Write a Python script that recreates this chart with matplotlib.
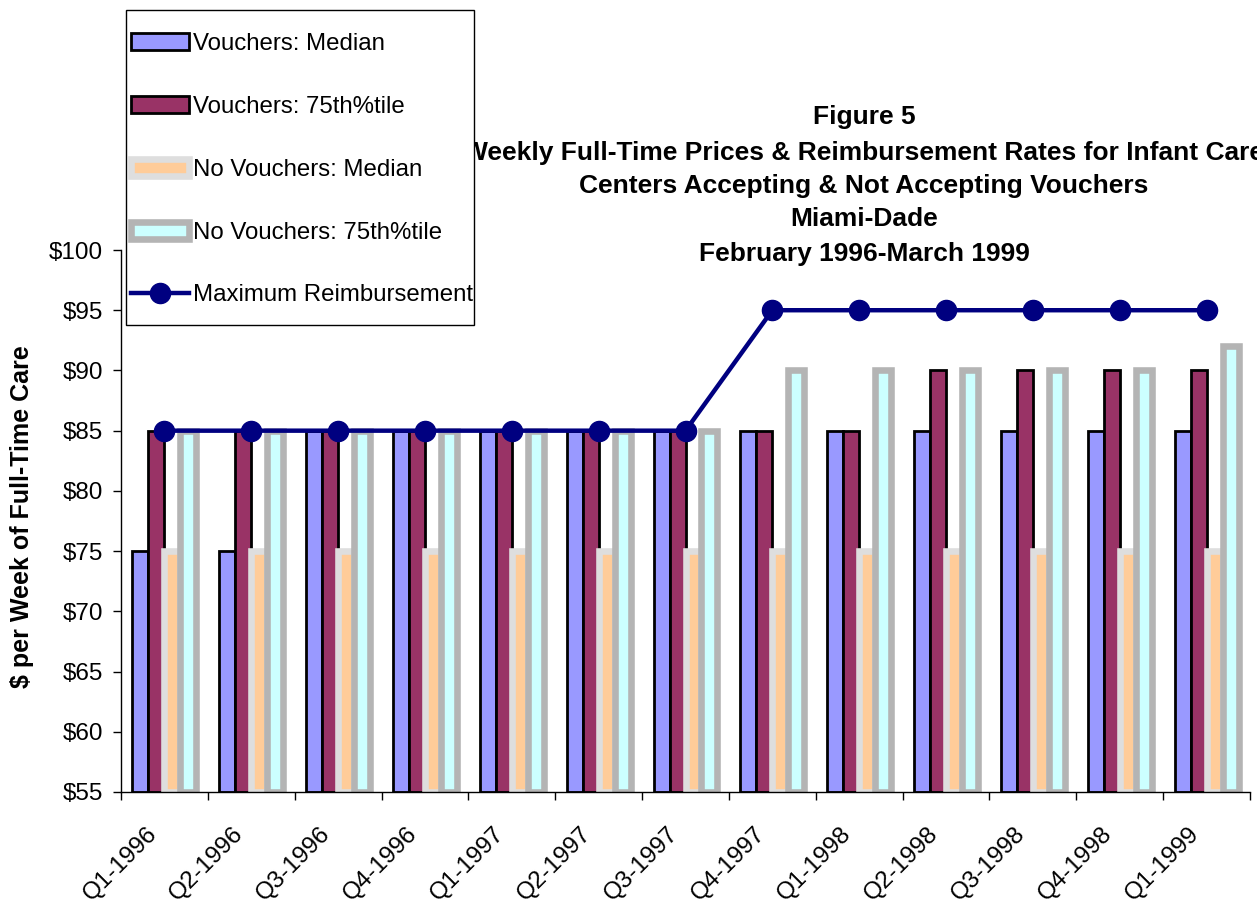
import numpy as np
import matplotlib
matplotlib.use("Agg")
import matplotlib.pyplot as plt
import matplotlib.transforms as mtransforms
from matplotlib.patches import Rectangle

plt.rcParams['font.family'] = ['Liberation Sans', 'DejaVu Sans']

# data
quarters = ['Q1-1996', 'Q2-1996', 'Q3-1996', 'Q4-1996', 'Q1-1997', 'Q2-1997', 'Q3-1997',
            'Q4-1997', 'Q1-1998', 'Q2-1998', 'Q3-1998', 'Q4-1998', 'Q1-1999']
v_median = [75, 75, 85, 85, 85, 85, 85, 85, 85, 85, 85, 85, 85]
v_75th = [85, 85, 85, 85, 85, 85, 85, 85, 85, 90, 90, 90, 90]
nv_median = [75, 75, 75, 75, 75, 75, 75, 75, 75, 75, 75, 75, 75]
nv_75th = [85, 85, 85, 85, 85, 85, 85, 90, 90, 90, 90, 90, 92]
max_reimb = [85, 85, 85, 85, 85, 85, 85, 95, 95, 95, 95, 95, 95]

labels = ['Vouchers: Median', 'Vouchers: 75th%tile', 'No Vouchers: Median',
          'No Vouchers: 75th%tile', 'Maximum Reimbursement']

W, H = 1257, 907
fig = plt.figure(figsize=(W / 100, H / 100), dpi=100)
ax = fig.add_axes([121 / W, 1 - 792 / H, 1129 / W, 542 / H])

x = np.arange(len(quarters))
w = 0.184
base = 55

ax.bar(x - 1.5 * w, np.array(v_median) - base, w, bottom=base, color='#9999FF',
       edgecolor='black', linewidth=2, zorder=2)
ax.bar(x - 0.5 * w, np.array(v_75th) - base, w, bottom=base, color='#993366',
       edgecolor='black', linewidth=2, zorder=2)
ax.bar(x + 0.5 * w, np.array(nv_median) - base, w, bottom=base, color='#FFCC99',
       edgecolor='#DEDEDE', linewidth=4.75, zorder=2)
ax.bar(x + 1.5 * w, np.array(nv_75th) - base, w, bottom=base, color='#CCFFFF',
       edgecolor='#B4B4B4', linewidth=4.75, zorder=2)
ax.plot(x, max_reimb, color='#000080', linewidth=3.2, marker='o', markersize=14.5, zorder=4,
        clip_on=False)

ax.set_xlim(-0.5, len(quarters) - 0.5)
ax.set_ylim(55, 100)
ax.set_yticks(range(55, 101, 5))
ax.set_yticklabels([f'${v}' for v in range(55, 101, 5)], fontsize=17.5)
ax.tick_params(axis='y', direction='out', length=6, width=1, pad=7)

ax.set_xticks(x)
ax.set_xticks(np.arange(-0.5, len(quarters), 1), minor=True)
ax.set_xticklabels(quarters, fontsize=17.5, rotation=45, ha='right', va='center',
                   rotation_mode='anchor')
ax.tick_params(axis='x', which='major', length=0, pad=28)
ax.tick_params(axis='x', which='minor', direction='out', length=6, width=1)
shift = mtransforms.ScaledTranslation(-0.11, 0.0, fig.dpi_scale_trans)
for lab in ax.get_xticklabels():
    lab.set_transform(lab.get_transform() + shift)

for s in ['top', 'right']:
    ax.spines[s].set_visible(False)
for s in ['left', 'bottom']:
    ax.spines[s].set_linewidth(1)

ax.set_ylabel('$ per Week of Full-Time Care', fontsize=18, fontweight='bold')
ax.yaxis.set_label_coords(34 / W, 1 - 517 / H, transform=fig.transFigure)

# title, one line at a time
title_lines = ['Figure 5',
               'Weekly Full-Time Prices & Reimbursement Rates for Infant Care',
               'Centers Accepting & Not Accepting Vouchers',
               'Miami-Dade',
               'February 1996-March 1999']
title_y = [117, 153, 186, 219, 254]
for t, yy in zip(title_lines, title_y):
    fig.text(864 / W, 1 - yy / H, t, ha='center', va='center', fontsize=19,
             fontweight='bold', zorder=3)

# legend box covering the title
fig.patches.append(Rectangle((126 / W, 1 - 325 / H), 348 / W, 315 / H,
                             transform=fig.transFigure, facecolor='white',
                             edgecolor='black', linewidth=1, zorder=4))
leg = fig.legend(ax.containers + ax.lines, labels, loc='upper left',
                 bbox_to_anchor=(131 / W, 1 - 33 / H), frameon=False, fontsize=17.3,
                 borderpad=0, borderaxespad=0, handlelength=2.4, handletextpad=0.2,
                 labelspacing=1.7, numpoints=1)
leg.set_zorder(5)

fig.savefig('out.png', dpi=100)
